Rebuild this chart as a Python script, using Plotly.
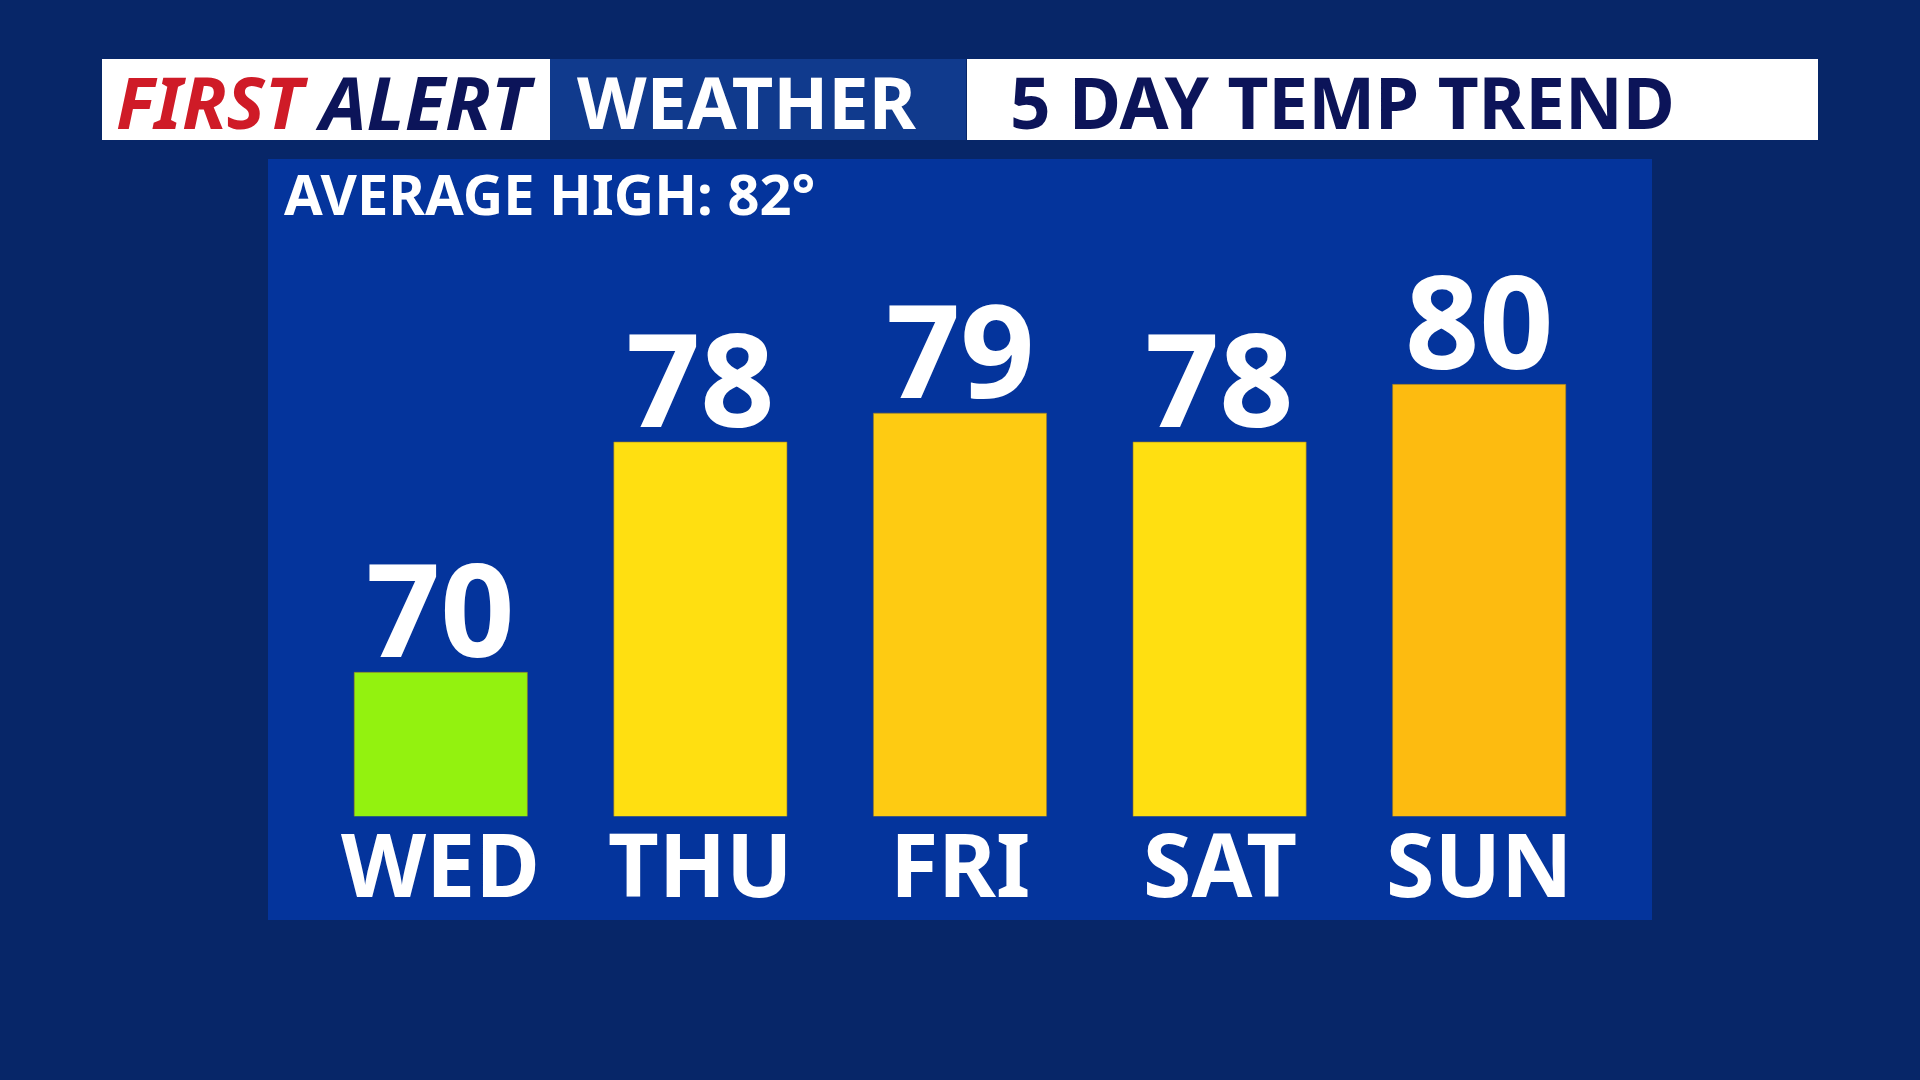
import plotly.graph_objects as go

# ---- data ----
days = ["WED", "THU", "FRI", "SAT", "SUN"]
highs = [70, 78, 79, 78, 80]
average_high = 82
header_left_red = "FIRST"
header_left_navy = "ALERT"
header_mid = "WEATHER"
header_right = "5 DAY TEMP TREND"

# ---- styles ----
bar_colors = ["#93f20f", "#ffdf11", "#fecb12", "#ffdf11", "#fdbb10"]
W, H = 1920, 1080
FONT = "Noto Sans"
NAVY = "#0c1459"
RED = "#cf1b27"
Y_MIN, Y_MAX = 65, 88


def fx(px):
    return px / W


def fy(py):
    return 1 - py / H


fig = go.Figure()
fig.add_trace(go.Bar(
    x=days, y=highs,
    marker=dict(color=bar_colors, line=dict(color="rgba(150,120,40,0.6)", width=1)),
    hoverinfo="skip",
))

shapes = [
    # chart panel
    dict(type="rect", xref="paper", yref="paper", x0=fx(268), x1=fx(1652), y0=fy(920), y1=fy(159),
         fillcolor="#04349c", line=dict(width=0), layer="below"),
    # header boxes
    dict(type="rect", xref="paper", yref="paper", x0=fx(102), x1=fx(550), y0=fy(140), y1=fy(59),
         fillcolor="#ffffff", line=dict(width=0), layer="below"),
    dict(type="rect", xref="paper", yref="paper", x0=fx(550), x1=fx(966), y0=fy(140), y1=fy(59),
         fillcolor="#103a8d", line=dict(width=0), layer="below"),
    dict(type="rect", xref="paper", yref="paper", x0=fx(967), x1=fx(1818), y0=fy(140), y1=fy(59),
         fillcolor="#ffffff", line=dict(width=0), layer="below"),
]

annotations = [
    dict(text=header_left_red, x=fx(114), y=fy(101), xref="paper", yref="paper", xanchor="left",
         yanchor="middle", showarrow=False,
         font=dict(family=FONT, size=72, color=RED, weight="bold", style="italic")),
    dict(text=header_left_navy, x=fx(313), y=fy(101), xref="paper", yref="paper", xanchor="left",
         yanchor="middle", showarrow=False,
         font=dict(family=FONT, size=74, color=NAVY, weight="bold", style="italic")),
    dict(text=header_mid, x=fx(575), y=fy(101), xref="paper", yref="paper", xanchor="left",
         yanchor="middle", showarrow=False,
         font=dict(family=FONT, size=72, color="#ffffff", weight="bold")),
    dict(text=header_right, x=fx(1008), y=fy(101), xref="paper", yref="paper", xanchor="left",
         yanchor="middle", showarrow=False,
         font=dict(family=FONT, size=71, color=NAVY, weight="bold")),
    dict(text=f"AVERAGE HIGH: {average_high}°", x=fx(282), y=fy(193), xref="paper", yref="paper",
         xanchor="left", yanchor="middle", showarrow=False,
         font=dict(family=FONT, size=56, color="#ffffff", weight="bold")),
]

for d, v in zip(days, highs):
    # value label above each bar
    annotations.append(dict(
        text=str(v), x=d, y=v, xref="x", yref="y", xanchor="center", yanchor="bottom",
        yshift=-25, showarrow=False,
        font=dict(family=FONT, size=130, color="#ffffff", weight="bold"),
    ))
    # day label under each bar
    annotations.append(dict(
        text=d, x=d, y=Y_MIN, xref="x", yref="y", xanchor="center", yanchor="top",
        yshift=15, showarrow=False,
        font=dict(family=FONT, size=88, color="#ffffff", weight="bold"),
    ))

fig.update_layout(
    width=W, height=H,
    margin=dict(l=0, r=0, t=0, b=0),
    paper_bgcolor="#072668",
    plot_bgcolor="rgba(0,0,0,0)",
    showlegend=False,
    bargap=0.333,
    shapes=shapes,
    annotations=annotations,
    xaxis=dict(
        domain=[fx(311), fx(1609)],
        showgrid=False, zeroline=False, showline=False, ticks="",
        showticklabels=False,
        fixedrange=True,
    ),
    yaxis=dict(
        domain=[fy(816.3), fy(154)],
        range=[Y_MIN, Y_MAX],
        visible=False, showgrid=False, zeroline=False,
        fixedrange=True,
    ),
)

fig.write_html(
    "out.html",
    config={"displayModeBar": False},
    post_script="document.body.style.margin='0';document.body.style.overflow='hidden';",
)
